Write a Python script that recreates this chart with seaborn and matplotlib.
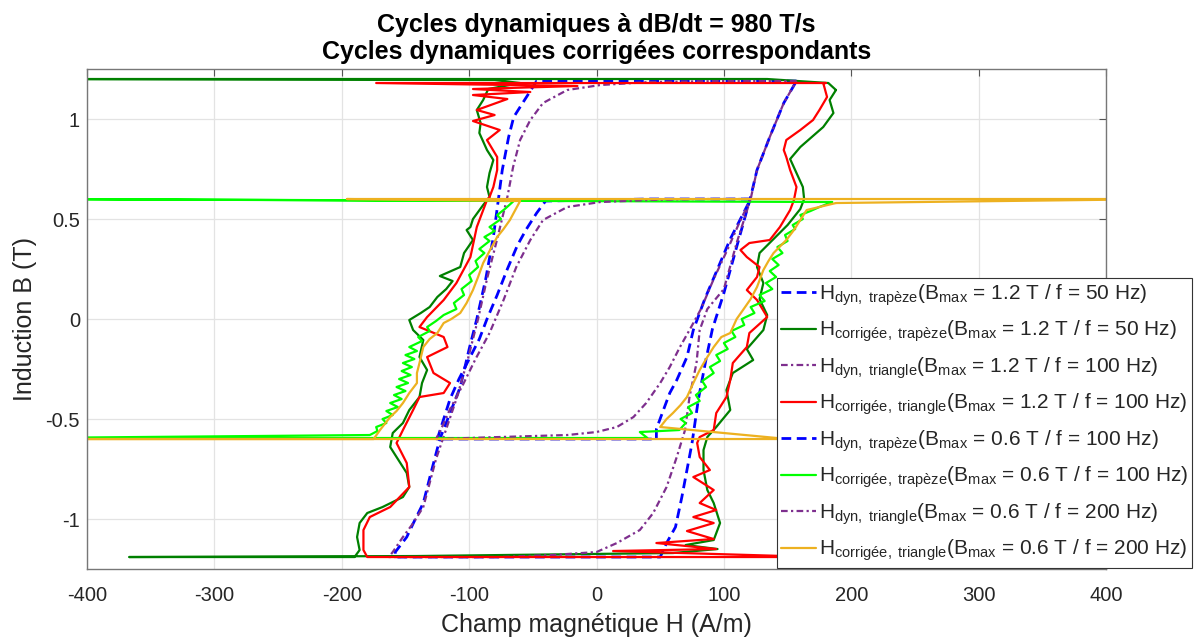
import pandas as pd
import seaborn as sns
import matplotlib.pyplot as plt

# Cycles (H en A/m, B en T)
h_dyn_trap_12 = [157, 100, 40, -47, -56, -65, -69, -74, -77, -81, -87, -94, -100, -107, -115, -123, -130,
                 -136, -143, -149, -158, -158, -60, 50, 55, 62, 67, 71, 75, 80, 86, 91, 100, 110, 121, 126,
                 136, 147, 157]
b_dyn_trap_12 = [1.19, 1.19, 1.19, 1.19, 1.1, 1.01, 0.91, 0.745, 0.6, 0.41, 0.2, 0.0, -0.15, -0.34, -0.47,
                 -0.6, -0.77, -0.92, -1.01, -1.09, -1.165, -1.19, -1.19, -1.19, -1.12, -1.04, -0.89, -0.755,
                 -0.62, -0.4, -0.2, -0.05, 0.13, 0.36, 0.61, 0.745, 0.91, 1.08, 1.19]

h_cor_trap_12 = [188, 182, 134, -450, -80, -60, -85, -89, -94, -91, -92, -86, -81, -84, -86, -84, -89, -97,
                 -99, -102, -97, -104, -107, -123, -113, -118, -125, -131, -138, -147, -144, -136, -139, -133,
                 -137, -139, -147, -152, -160, -162, -157, -149, -147, -152, -168, -180, -186, -188, -186,
                 -190, -367, -141, 60, 95, 70, 92, 97, 92, 87, 84, 84, 87, 94, 105, 102, 107, 123, 118, 131,
                 134, 128, 131, 126, 128, 139, 150, 160, 163, 162, 157, 152, 160, 178, 186, 183, 188]
b_cor_trap_12 = [1.145, 1.18, 1.2, 1.2, 1.195, 1.18, 1.15, 1.095, 1.045, 0.98, 0.93, 0.845, 0.795, 0.73,
                 0.66, 0.61, 0.57, 0.5, 0.46, 0.445, 0.395, 0.33, 0.26, 0.215, 0.19, 0.15, 0.11, 0.06, 0.03,
                 -0.005, -0.055, -0.105, -0.19, -0.255, -0.32, -0.39, -0.455, -0.52, -0.57, -0.64, -0.69,
                 -0.77, -0.84, -0.89, -0.94, -0.97, -1.02, -1.09, -1.155, -1.19, -1.19, -1.185, -1.17, -1.15,
                 -1.13, -1.105, -1.02, -0.92, -0.855, -0.755, -0.655, -0.59, -0.54, -0.455, -0.355, -0.27,
                 -0.205, -0.15, -0.055, 0.02, 0.1, 0.18, 0.26, 0.33, 0.4, 0.47, 0.55, 0.6, 0.66, 0.73, 0.8,
                 0.86, 0.96, 1.03, 1.095, 1.145]

h_dyn_tri_12 = [157, 100, 42, 3, -23, -42, -52, -60, -65.5, -70, -78, -86, -93, -101, -110, -118, -126, -136,
                -145, -152, -160, -163, -120, -76, -35, 0, 16, 34, 44.5, 55, 63, 69.5, 73, 78.5, 81, 87, 100,
                110, 121, 126, 136, 147, 157]
b_dyn_tri_12 = [1.19, 1.19, 1.185, 1.17, 1.145, 1.08, 0.995, 0.895, 0.76, 0.61, 0.4, 0.2, 0.0, -0.2, -0.4,
                -0.55, -0.7, -0.94, -1.03, -1.09, -1.165, -1.19, -1.19, -1.19, -1.18, -1.165, -1.12, -1.055,
                -0.97, -0.84, -0.69, -0.555, -0.39, -0.22, -0.055, 0.05, 0.15, 0.38, 0.6, 0.745, 0.91, 1.08,
                1.19]

h_cor_tri_12 = [180, -173, -15, -97, -52, -97, -70, -94, -80, -97, -76, -86, -78, -78, -81, -84, -86, -94, -99,
                -110, -120, -133, -139, -120, -117, -133, -128, -115, -120, -139, -144, -152, -157, -149,
                -147, -162, -178, -183, -183, -180, 175, 13, 94, 47, 92, 71, 92, 76, 94, 81, 92, 76, 89, 81,
                79, 81, 92, 94, 102, 105, 107, 118, 120, 134, 126, 118, 126, 128, 118, 113, 120, 136, 144,
                152, 155, 157, 152, 149, 147, 149, 160, 170, 175, 181, 178, 180]
b_cor_tri_12 = [1.18, 1.18, 1.165, 1.15, 1.135, 1.12, 1.1, 1.045, 1.02, 0.99, 0.945, 0.895, 0.81, 0.745, 0.66,
                0.61, 0.595, 0.46, 0.31, 0.18, 0.095, 0.01, -0.04, -0.09, -0.14, -0.19, -0.27, -0.32, -0.37,
                -0.39, -0.455, -0.555, -0.62, -0.72, -0.84, -0.94, -0.99, -1.055, -1.155, -1.19, -1.19,
                -1.16, -1.15, -1.12, -1.1, -1.06, -1.02, -0.99, -0.955, -0.92, -0.855, -0.79, -0.755, -0.69,
                -0.62, -0.59, -0.555, -0.47, -0.39, -0.305, -0.22, -0.14, -0.07, 0.01, 0.095, 0.145, 0.21,
                0.26, 0.31, 0.345, 0.38, 0.395, 0.46, 0.545, 0.595, 0.66, 0.745, 0.81, 0.845, 0.895, 0.945,
                0.995, 1.045, 1.11, 1.18, 1.18]

h_dyn_trap_06 = [121, 40, -40, -47, -55, -62, -70, -78, -86, -92, -100, -108, -115, -120, -125, -60, 47, 47,
                 52.5, 57.5, 63, 71, 76, 85, 95, 105, 113, 121]
b_dyn_trap_06 = [0.6, 0.6, 0.59, 0.53, 0.45, 0.37, 0.25, 0.12, 0.0, -0.1, -0.2, -0.3, -0.4, -0.5, -0.6, -0.6,
                 -0.6, -0.55, -0.455, -0.37, -0.305, -0.19, -0.055, 0.1, 0.25, 0.4, 0.5, 0.6]

h_cor_trap_06 = [185, -450, -65, -72, -78, -75, -84, -80, -88, -84, -92, -88, -95, -93, -100, -98, -106, -104,
                 -112, -110, -120, -126, -133, -131, -140, -137, -147, -141, -150, -143, -152, -145, -153,
                 -146, -155, -148, -157, -150, -159, -153, -162, -156, -165, -160, -168, -165, -173, -172,
                 -178, -450, 40, 34, 50, 65, 70, 66, 75, 72, 81, 78, 86, 83, 92, 89, 97, 94, 103, 100, 109,
                 106, 116, 114, 124, 121, 132, 128, 138, 133, 141, 136, 143, 138, 146, 142, 150, 148, 156,
                 154, 162, 160, 168, 175, 185]
b_cor_trap_06 = [0.585, 0.6, 0.59, 0.55, 0.52, 0.5, 0.46, 0.44, 0.41, 0.39, 0.35, 0.33, 0.29, 0.26, 0.22,
                 0.19, 0.15, 0.12, 0.08, 0.05, 0.02, -0.01, -0.04, -0.06, -0.09, -0.11, -0.14, -0.16, -0.18,
                 -0.2, -0.22, -0.24, -0.26, -0.28, -0.3, -0.32, -0.34, -0.36, -0.38, -0.4, -0.42, -0.44,
                 -0.46, -0.48, -0.5, -0.52, -0.54, -0.56, -0.58, -0.595, -0.595, -0.565, -0.56, -0.555,
                 -0.52, -0.5, -0.47, -0.44, -0.41, -0.38, -0.34, -0.31, -0.27, -0.24, -0.21, -0.18, -0.15,
                 -0.12, -0.09, -0.06, -0.03, 0.0, 0.03, 0.06, 0.09, 0.12, 0.15, 0.18, 0.21, 0.24, 0.27, 0.3,
                 0.33, 0.36, 0.39, 0.42, 0.45, 0.47, 0.5, 0.52, 0.54, 0.56, 0.585]

h_dyn_tri_06 = [121, 80, 42, 3, -23, -42, -52, -63, -73, -84, -95, -105, -115, -122, -126, -76, -23, 0, 16, 29,
                39, 50, 57.5, 65.5, 73, 82, 92, 103, 112, 121]
b_dyn_tri_06 = [0.6, 0.6, 0.595, 0.585, 0.56, 0.495, 0.395, 0.26, 0.095, -0.07, -0.2, -0.33, -0.45, -0.55,
                -0.6, -0.59, -0.58, -0.565, -0.54, -0.49, -0.42, -0.32, -0.24, -0.14, -0.055, 0.05, 0.2, 0.35,
                0.48, 0.6]

h_cor_tri_06 = [188, 450, -196, -60, -68, -73, -78, -84, -89, -93, -97, -102, -107, -114, -120, -125, -131,
                -136, -139, -141, -141, -147, -152, -157, -162, -170, -175, -450, 150, 50, 55, 60, 66, 71, 76,
                81, 86, 92, 98, 105, 110, 115, 121, 126, 131, 135, 139, 149, 155, 160, 165, 188]
b_cor_tri_06 = [0.58, 0.6, 0.6, 0.59, 0.495, 0.45, 0.41, 0.34, 0.28, 0.21, 0.145, 0.08, 0.03, 0.0, -0.02,
                -0.07, -0.1, -0.14, -0.22, -0.27, -0.32, -0.37, -0.42, -0.46, -0.49, -0.555, -0.6, -0.6, -0.6,
                -0.54, -0.5, -0.47, -0.43, -0.39, -0.32, -0.255, -0.2, -0.14, -0.09, -0.07, 0.0, 0.045, 0.1,
                0.16, 0.245, 0.29, 0.33, 0.395, 0.445, 0.495, 0.545, 0.58]

labels = [
    r'H$_{\mathrm{dyn,\ trapèze}}$(B$_{\mathrm{max}}$ = 1.2 T / f = 50 Hz)',
    r'H$_{\mathrm{corrigée,\ trapèze}}$(B$_{\mathrm{max}}$ = 1.2 T / f = 50 Hz)',
    r'H$_{\mathrm{dyn,\ triangle}}$(B$_{\mathrm{max}}$ = 1.2 T / f = 100 Hz)',
    r'H$_{\mathrm{corrigée,\ triangle}}$(B$_{\mathrm{max}}$ = 1.2 T / f = 100 Hz)',
    r'H$_{\mathrm{dyn,\ trapèze}}$(B$_{\mathrm{max}}$ = 0.6 T / f = 100 Hz)',
    r'H$_{\mathrm{corrigée,\ trapèze}}$(B$_{\mathrm{max}}$ = 0.6 T / f = 100 Hz)',
    r'H$_{\mathrm{dyn,\ triangle}}$(B$_{\mathrm{max}}$ = 0.6 T / f = 200 Hz)',
    r'H$_{\mathrm{corrigée,\ triangle}}$(B$_{\mathrm{max}}$ = 0.6 T / f = 200 Hz)',
]

dash = (0, (3.5, 2))
dashdot = (0, (3, 1.5, 1, 1.5))
courbes = [
    (h_dyn_trap_12, b_dyn_trap_12, '#0000ff', dash, 2.0),
    (h_cor_trap_12, b_cor_trap_12, '#008000', '-', 1.6),
    (h_dyn_tri_12, b_dyn_tri_12, '#7e2f8e', dashdot, 1.6),
    (h_cor_tri_12, b_cor_tri_12, '#ff0000', '-', 1.6),
    (h_dyn_trap_06, b_dyn_trap_06, '#0000ff', dash, 2.0),
    (h_cor_trap_06, b_cor_trap_06, '#00ff00', '-', 1.6),
    (h_dyn_tri_06, b_dyn_tri_06, '#7e2f8e', dashdot, 1.6),
    (h_cor_tri_06, b_cor_tri_06, '#edb120', '-', 1.6),
]

sns.set_style("whitegrid")
plt.rcParams['font.family'] = ['Liberation Sans', 'DejaVu Sans']
plt.rcParams['mathtext.fontset'] = 'custom'
plt.rcParams['mathtext.rm'] = 'Liberation Sans'
plt.rcParams['mathtext.it'] = 'Liberation Sans:italic'
plt.rcParams['mathtext.bf'] = 'Liberation Sans:bold'
plt.rcParams['axes.unicode_minus'] = False

fig = plt.figure(figsize=(12.04, 6.39), dpi=100)
ax = fig.add_axes([0.0723, 0.1095, 0.8463, 0.7825])

for (h, b, c, ls, lw), lab in zip(courbes, labels):
    df = pd.DataFrame({'H': h, 'B': b})
    sns.lineplot(data=df, x='H', y='B', sort=False, estimator=None, color=c,
                 linestyle=ls, linewidth=lw, label=lab, ax=ax)

ax.set_xlim(-400, 400)
ax.set_ylim(-1.25, 1.25)
ax.set_xticks(range(-400, 401, 100))
ax.set_yticks([-1, -0.5, 0, 0.5, 1])
ax.set_yticklabels(['-1', '-0.5', '0', '0.5', '1'])
ax.grid(True, color='#e3e3e3', linewidth=0.9)
for s in ax.spines.values():
    s.set_color('#777777')
    s.set_linewidth(1.0)
ax.tick_params(direction='in', top=True, right=True, length=5, width=0.8, color='#555555',
               labelsize=14.5, labelcolor='#262626')
ax.tick_params(axis='x', pad=12)
ax.tick_params(axis='y', pad=5)

ax.set_xlabel('Champ magnétique H (A/m)', fontsize=18, color='#262626', labelpad=6)
ax.set_ylabel('Induction B (T)', fontsize=18, color='#262626', labelpad=6)
ax.set_title('Cycles dynamiques à dB/dt = 980 T/s\nCycles dynamiques corrigées correspondants',
             fontsize=18, fontweight='bold', linespacing=1.15, pad=7, color='black')

leg = ax.legend(loc='upper left', bbox_to_anchor=(777 / 1204, 1 - 278 / 639),
                bbox_transform=fig.transFigure, fontsize=15, frameon=True, fancybox=False,
                framealpha=1, edgecolor='#333333', handlelength=1.65, handletextpad=0.15,
                borderpad=0.2, labelspacing=0.53, borderaxespad=0)
leg.get_frame().set_linewidth(0.8)

plt.savefig('out.png', dpi=100)
plt.close()
